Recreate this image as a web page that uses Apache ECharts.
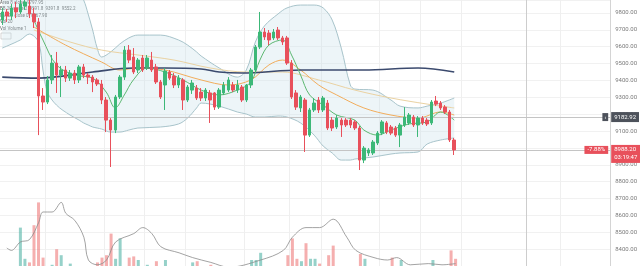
<!DOCTYPE html>
<html><head><meta charset="utf-8">
<script src="https://cdn.jsdelivr.net/npm/echarts@6/dist/echarts.min.js"></script>
<style>html,body{margin:0;padding:0;background:#fff}#c{width:640px;height:266px}</style>
</head><body><div id="c"></div>
<script>
// ---- data ----
const openP = [9758,9806,9782,9830,9806,9841,9841,9794,9747,9308,
  9272,9403,9503,9432,9462,9414,9444,9403,9480,9432,
  9420,9403,9379,9284,9165,9106,9302,9420,9580,9539,
  9462,9533,9480,9521,9480,9391,9373,9450,9426,9373,
  9403,9284,9343,9355,9331,9296,9326,9326,9242,9326,
  9343,9373,9343,9361,9284,9373,9462,9598,9687,9681,
  9652,9699,9652,9652,9503,9326,9237,9284,9076,9225,
  9284,9225,9266,9165,9124,9165,9165,9165,9154,9118,
  8928,8970,8970,9029,9088,9148,9124,9118,9076,9136,
  9148,9183,9136,9177,9165,9148,9278,9266,9242,9213,
  9047];
const closeP = [9806,9782,9830,9806,9853,9865,9794,9747,9308,9272,
  9403,9503,9432,9462,9414,9444,9403,9480,9432,9420,
  9391,9379,9284,9165,9106,9302,9420,9580,9521,9450,
  9521,9462,9533,9462,9391,9302,9456,9414,9373,9414,
  9284,9361,9385,9296,9296,9343,9284,9242,9343,9373,
  9403,9343,9373,9284,9373,9462,9598,9687,9658,9640,
  9687,9652,9628,9503,9302,9242,9302,9076,9225,9266,
  9225,9296,9118,9118,9177,9136,9136,9136,9118,8928,
  8999,8988,9035,9088,9154,9094,9088,9076,9136,9183,
  9195,9136,9177,9148,9142,9272,9260,9237,9213,9047,
  8988.2];
const lowP = [9729,9747,9758,9770,9794,9818,9770,9711,9076,9225,
  9260,9379,9326,9302,9391,9397,9379,9385,9414,9379,
  9331,9367,9260,9094,8887,9088,9290,9403,9503,9438,
  9444,9450,9462,9450,9379,9290,9225,9403,9355,9355,
  9225,9272,9320,9284,9278,9278,9148,9225,9231,9314,
  9331,9331,9326,9272,9272,9355,9450,9586,9640,9610,
  9640,9640,9610,9492,9290,9225,9213,8976,9065,9213,
  9207,9213,9106,9100,9112,9065,9124,9118,9106,8869,
  8910,8952,8958,9017,9076,9082,9076,9065,9005,9124,
  9136,9124,9065,9136,9130,9136,9248,9225,9201,9035,
  8958];
const highP = [9830,9824,9853,9865,9901,9913,9877,9830,9770,9355,
  9426,9551,9569,9486,9486,9462,9462,9492,9498,9444,
  9432,9414,9403,9302,9177,9314,9432,9604,9610,9592,
  9533,9551,9551,9569,9498,9403,9474,9462,9444,9432,
  9414,9373,9403,9373,9355,9355,9343,9331,9355,9391,
  9420,9391,9403,9373,9379,9474,9610,9806,9711,9699,
  9705,9717,9664,9664,9521,9343,9314,9296,9237,9296,
  9302,9308,9284,9183,9195,9177,9177,9177,9165,9130,
  9011,8999,9047,9100,9165,9159,9136,9130,9148,9242,
  9207,9195,9189,9189,9177,9284,9308,9278,9254,9225,
  9059];
const volume = [12,15,10,18,52,26,23,54,73,27,
  14,21,34,29,12,22,15,10,13,8,
  12,23,27,29,47,26,43,16,27,28,
  25,14,21,12,24,14,25,10,20,8,
  12,16,23,24,12,10,21,12,9,14,
  10,8,11,15,20,25,25,31,14,20,
  12,15,17,29,43,26,24,39,26,26,
  22,14,29,37,14,12,9,11,15,30,
  26,15,12,16,18,15,27,16,25,14,
  12,10,11,13,18,25,12,10,14,33,
  26];
const bbIdx = [0,4,6,8,9,10,12,15,17,18,19,20,21,22,24,26,28,30,35,39,41,43,44,48,52,54,56,58,61,63,66,69,71,73,75,77,78,82,86,88,92,94,97,100];
const bbUpper = [10025,10025,10025,10025,10025,10025,10007,9966,9913,9877,9794,9699,9592,9539,9569,9616,9652,9669,9669,9640,9610,9569,9545,9474,9420,9462,9628,9723,9794,9830,9847,9847,9830,9758,9592,9373,9349,9343,9284,9248,9237,9248,9266,9296];
const bbLower = [9592,9640,9675,9628,9462,9331,9254,9195,9165,9148,9136,9124,9118,9112,9094,9094,9106,9118,9124,9142,9177,9237,9266,9248,9213,9201,9183,9183,9189,9183,9148,9076,9011,8970,8928,8928,8934,8946,8964,8970,8976,9023,9047,9059];
const ma200Idx = [0,8,20,29,36,44,48,53,66,80,92,100];
const ma200 = [9420,9414,9450,9474,9474,9468,9450,9444,9462,9462,9474,9450];
const greenIdx = [7,9,12,16,20,23,25,27,29,32,36,40,44,48,52,55,57,59,62,64,66,68,71,74,78,80,83,86,90,94,97,100];
const greenMa = [9758,9640,9492,9432,9414,9331,9237,9314,9403,9474,9450,9403,9343,9314,9343,9391,9521,9610,9640,9551,9432,9314,9254,9195,9165,9106,9076,9106,9142,9154,9213,9165];
const orangeIdx = [7,14,22,26,30,36,44,50,55,59,62,66,70,74,80,86,92,97,100];
const orangeMa = [9717,9610,9509,9462,9474,9462,9403,9373,9403,9492,9521,9462,9373,9314,9237,9195,9177,9213,9195];
const tanIdx = [7,15,22,30,38,46,54,62,70,78,86,94,100];
const tanMa = [9699,9628,9580,9551,9521,9474,9450,9450,9403,9343,9296,9260,9237];
const volMaIdx = [1,2,4,6,8,9,11,13,14,16,18,19,21,23,25,29,31,33,35,39,42,46,50,57,62,64,67,70,73,76,78,82,85,87,90,94,97,100];
const volMa = [35,33,40,42,56,65,65,73,64,58,44,25,21,25,40,47,52,47,36,31,27,23,19,25,33,44,52,52,59,44,33,27,25,27,21,22,21,22];
const splitIdx = [10,23,32,41,54,64,71,84,93,102,124];
const markerIdx = 116;
const refPrice = 9182.92;
const lastPrice = 8988.2;
const lastPct = '-7.88%';
const countdown = '03:19:47';
const slots = 135;
const legendRows = ['Area 8 close  9797.95','BB 20 close 2  9591.8  9391.8  9552.2','MA 20 close 0  9567.90','Vol 20','Vol Volume 1'];

// ---- build ----
const cats = Array.from({length: slots}, (_, i) => String(i));
const candles = openP.map((o, i) => [o, closeP[i], lowP[i], highP[i]]);
const UP = '#3cb878', DOWN = '#e8505b';
const volData = volume.map((v, i) => ({value: v, itemStyle: {color: closeP[i] >= openP[i] ? 'rgba(80,178,165,0.6)' : 'rgba(236,110,110,0.55)'}}));
const pairs = (idx, vals) => idx.map((k, i) => [k, vals[i]]);
const bbDiff = bbIdx.map((k, i) => [k, bbUpper[i] - bbLower[i]]);
const FONT = 'Roboto';

const lineS = (name, data, color, width, extra) => Object.assign({
  name, type: 'line', data, smooth: 0.35, showSymbol: false, silent: true,
  xAxisIndex: 0, yAxisIndex: 0, lineStyle: {color, width}, z: 3
}, extra || {});

const chart = echarts.init(document.getElementById('c'), null, {renderer: 'canvas'});
chart.setOption({
  animation: false,
  backgroundColor: '#ffffff',
  grid: [
    {left: 0, right: 28, top: 0, bottom: 0},
    {left: 0, right: 28, top: 170, bottom: 0}
  ],
  xAxis: [
    {type: 'category', data: cats, gridIndex: 0, boundaryGap: true,
      axisLine: {show: false}, axisTick: {show: false}, axisLabel: {show: false},
      splitLine: {show: true, interval: (i) => splitIdx.indexOf(i) >= 0, lineStyle: {color: '#efefef', width: 1}}},
    {type: 'category', data: cats, gridIndex: 1, boundaryGap: true,
      axisLine: {show: false}, axisTick: {show: false}, axisLabel: {show: false}, splitLine: {show: false}}
  ],
  yAxis: [
    {type: 'value', gridIndex: 0, position: 'right', min: 8300, max: 9877, interval: 100,
      axisLine: {show: true, lineStyle: {color: '#d4d4d4'}}, axisTick: {show: false},
      axisLabel: {show: true, fontSize: 6, color: '#7a7a7a', fontFamily: FONT, margin: 5,
        showMinLabel: false, showMaxLabel: false, formatter: (v) => v.toFixed(2)},
      splitLine: {show: true, lineStyle: {color: '#f1f1f1'}}},
    {type: 'value', gridIndex: 1, min: 20, max: 100, show: false, splitLine: {show: false}}
  ],
  series: [
    {name: 'bbBase', type: 'line', data: pairs(bbIdx, bbLower), stack: 'bb', smooth: 0.35, showSymbol: false, silent: true,
      lineStyle: {color: '#a8c4cb', width: 1}, z: 1},
    {name: 'bbBand', type: 'line', data: bbDiff, stack: 'bb', smooth: 0.35, showSymbol: false, silent: true,
      lineStyle: {color: '#a8c4cb', width: 1}, areaStyle: {color: 'rgba(205,228,234,0.5)'}, z: 1},
    lineS('tan', pairs(tanIdx, tanMa), '#ead2a2', 1),
    lineS('orange', pairs(orangeIdx, orangeMa), '#f2ad5c', 1),
    lineS('ma200', pairs(ma200Idx, ma200), '#3b4a6e', 1.6),
    lineS('green', pairs(greenIdx, greenMa), '#5db872', 1),
    {name: 'vol', type: 'bar', xAxisIndex: 1, yAxisIndex: 1, data: volData, barWidth: 3, silent: true, z: 2},
    {name: 'volMa', type: 'line', xAxisIndex: 1, yAxisIndex: 1, data: pairs(volMaIdx, volMa), smooth: 0.35,
      showSymbol: false, silent: true, lineStyle: {color: '#8c8c8c', width: 0.8}, z: 3},
    {name: 'price', type: 'candlestick', xAxisIndex: 0, yAxisIndex: 0, data: candles, barWidth: 3, z: 5,
      itemStyle: {color: UP, color0: DOWN, borderColor: UP, borderColor0: DOWN, borderWidth: 1},
      markLine: {
        silent: true, symbol: ['none', 'none'], animation: false,
        data: [
          {xAxis: String(markerIdx), lineStyle: {color: '#cdcdcd', width: 1, type: 'solid'}, label: {show: false}},
          {yAxis: refPrice, lineStyle: {color: '#c4c4c4', width: 1, type: 'solid'},
            label: {show: true, position: 'end', distance: 1, formatter: refPrice.toFixed(2), fontSize: 6, fontFamily: FONT,
              color: '#fff', backgroundColor: '#4d525b', padding: [2, 3, 2, 3]}},
          {yAxis: lastPrice, lineStyle: {color: '#c4c4c4', width: 1, type: 'solid'},
            label: {show: true, position: 'end', distance: 1, offset: [0, 4], formatter: lastPrice.toFixed(2) + '\n' + countdown,
              fontSize: 6, lineHeight: 8, fontFamily: FONT, color: '#fff', backgroundColor: DOWN, padding: [1, 3, 1, 3]}}
        ]
      }}
  ]
});

// tags left of the price scale, placed through the chart's own scales
const rect = chart.getModel().getComponent('grid', 0).coordinateSystem.getRect();
const yRef = chart.convertToPixel({yAxisIndex: 0}, refPrice);
const yLast = chart.convertToPixel({yAxisIndex: 0}, lastPrice);
const xEdge = rect.x + rect.width;
chart.setOption({
  graphic: [
    {type: 'group', left: 0, top: 0, z: 100, children: legendRows.map((t, i) => ({
      type: 'text', x: 7, y: 2 + i * 6.5,
      style: {text: t, fontSize: 4.5, fontFamily: FONT, fill: '#555', textBaseline: 'top'}
    })).concat([{type: 'rect', shape: {x: 8, y: 35, width: 10, height: 6}, style: {fill: '#fff', stroke: '#bbb', lineWidth: 0.6}}])},
    {type: 'text', z: 100, x: xEdge - 2, y: yRef,
      style: {text: '‹', fontSize: 6, fontFamily: FONT, fill: '#fff', align: 'right', verticalAlign: 'middle',
        backgroundColor: '#4d525b', padding: [1, 2, 1, 2]}},
    {type: 'text', z: 100, x: xEdge - 2, y: yLast,
      style: {text: lastPct, fontSize: 6, fontFamily: FONT, fill: '#fff', align: 'right', verticalAlign: 'middle',
        backgroundColor: DOWN, padding: [1, 3, 1, 3]}}
  ]
});
</script></body></html>
